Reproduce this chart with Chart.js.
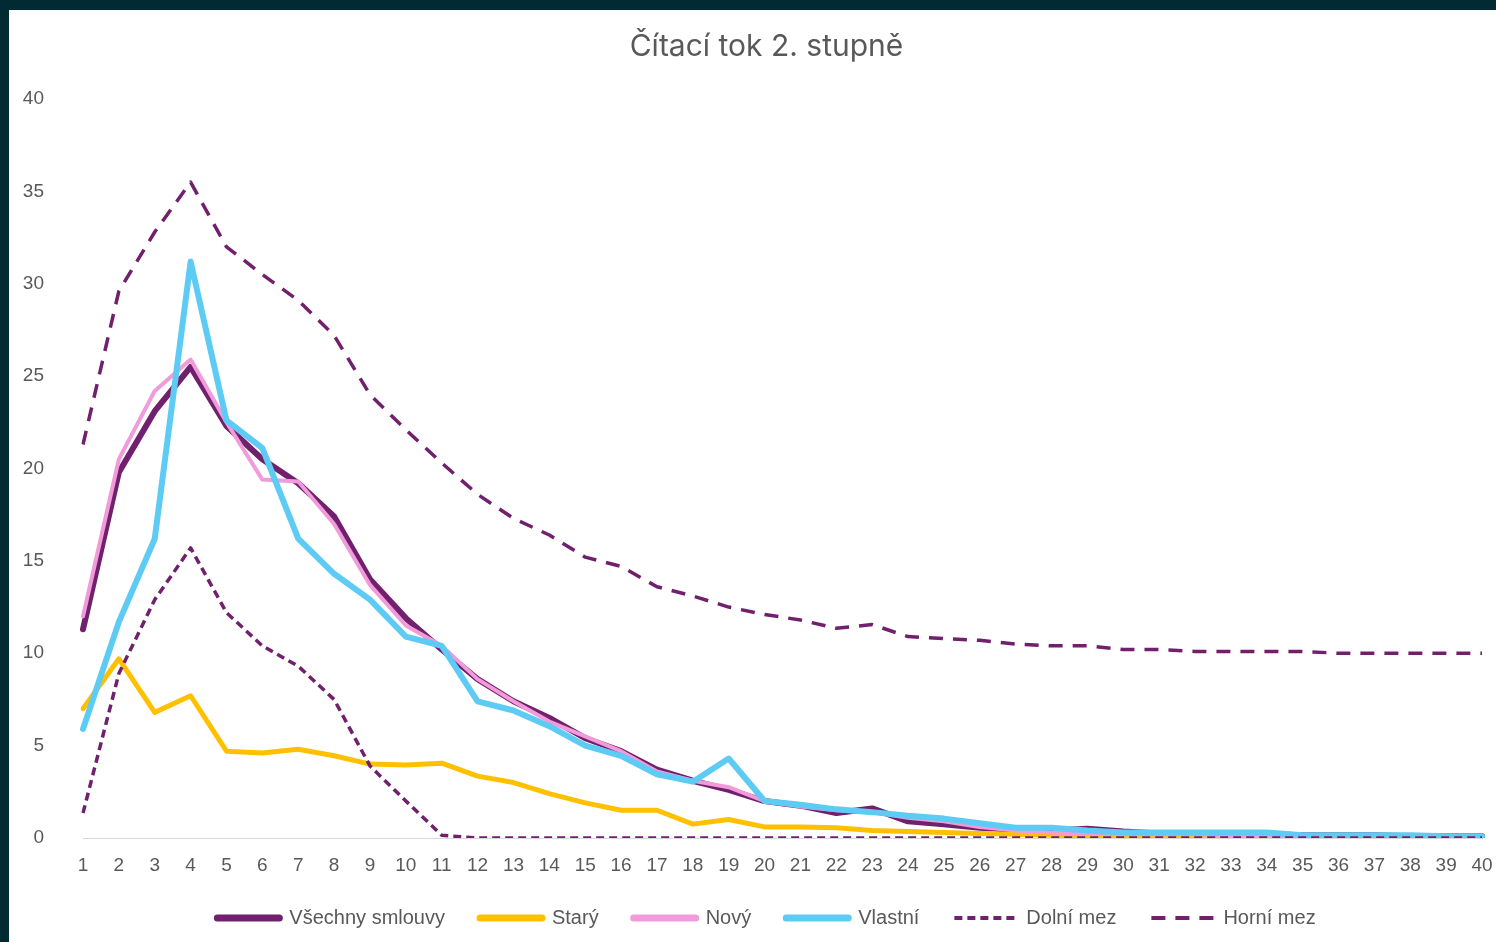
<!DOCTYPE html>
<html>
<head>
<meta charset="utf-8">
<script src="https://cdn.jsdelivr.net/npm/chart.js@4.4.1/dist/chart.umd.min.js"></script>
<style>
  html, body { margin: 0; padding: 0; background: #022a33; overflow: hidden; width: 1496px; height: 942px; }
  #wrap { position: absolute; left: 9px; top: 10px; width: 1515px; height: 932px; background: #ffffff; }
</style>
</head>
<body>
<div id="wrap"><canvas id="c" width="1515" height="932"></canvas></div>
<script>
const categories = ["1","2","3","4","5","6","7","8","9","10","11","12","13","14","15","16","17","18","19","20","21","22","23","24","25","26","27","28","29","30","31","32","33","34","35","36","37","38","39","40"];
const allContracts = [11.3,19.8,23.1,25.5,22.3,20.5,19.2,17.4,14.0,11.9,10.2,8.6,7.4,6.5,5.4,4.7,3.7,3.1,2.6,2.0,1.75,1.35,1.6,0.9,0.75,0.55,0.45,0.4,0.5,0.35,0.25,0.25,0.2,0.2,0.15,0.15,0.15,0.1,0.1,0.1];
const oldContracts = [7.0,9.7,6.8,7.7,4.7,4.6,4.8,4.45,4.0,3.95,4.05,3.35,3.0,2.4,1.9,1.5,1.5,0.75,1.0,0.6,0.6,0.55,0.4,0.35,0.3,0.25,0.2,0.15,0.1,0.05,0.05,0.05,0.05,0.05,0.05,0.05,0.05,0.05,0.05,0.05];
const newContracts = [12.0,20.5,24.2,25.9,22.5,19.4,19.3,17.0,13.7,11.5,10.4,8.6,7.4,6.3,5.5,4.7,3.6,3.1,2.75,2.0,1.7,1.5,1.4,1.1,0.9,0.6,0.4,0.3,0.25,0.2,0.2,0.2,0.15,0.15,0.15,0.1,0.1,0.1,0.1,0.1];
const ownContracts = [5.9,11.7,16.2,31.2,22.6,21.1,16.2,14.3,12.9,10.9,10.4,7.4,6.9,6.05,5.0,4.45,3.45,3.05,4.3,2.0,1.8,1.55,1.4,1.2,1.05,0.8,0.55,0.55,0.4,0.3,0.3,0.3,0.3,0.3,0.15,0.15,0.15,0.15,0.1,0.1];
const lowerBound = [1.35,8.9,12.9,15.7,12.2,10.4,9.3,7.5,3.9,2.0,0.15,0,0,0,0,0,0,0,0,0,0,0,0,0,0,0,0,0,0,0,0,0,0,0,0,0,0,0,0,0];
const upperBound = [21.3,29.6,32.8,35.5,32.0,30.5,29.1,27.2,24.0,22.1,20.3,18.6,17.3,16.4,15.2,14.7,13.6,13.1,12.5,12.1,11.8,11.35,11.55,10.9,10.8,10.7,10.5,10.4,10.4,10.2,10.2,10.1,10.1,10.1,10.1,10.0,10.0,10.0,10.0,10.0];
const yTicks = [0,5,10,15,20,25,30,35,40];

const textColor = '#595959';
const purple = '#70206c';

function line(label, data, color, width, dash, order) {
  return {
    label, data,
    borderColor: color, backgroundColor: color,
    borderWidth: width, borderDash: dash,
    borderCapStyle: dash.length ? 'butt' : 'round',
    borderJoinStyle: 'round',
    pointRadius: 0, pointHoverRadius: 0,
    tension: 0, fill: false, order
  };
}

new Chart(document.getElementById('c'), {
  type: 'line',
  data: {
    labels: categories,
    datasets: [
      line('Všechny smlouvy', allContracts, purple, 6, [], 0),
      line('Starý', oldContracts, '#ffc000', 5, [], -1),
      line('Nový', newContracts, '#f19bdb', 4, [], -2),
      line('Vlastní', ownContracts, '#5dcbf3', 6, [], -3),
      line('Dolní mez', lowerBound, purple, 3.5, [8, 5], -4),
      line('Horní mez', upperBound, purple, 3.5, [14, 10], -5)
    ]
  },
  options: {
    responsive: false,
    animation: false,
    layout: { padding: { left: 0, right: 0, top: 0, bottom: 4 } },
    plugins: {
      title: {
        display: true,
        text: 'Čítací tok 2. stupně',
        color: textColor,
        font: { family: 'Inter, "Open Sans", sans-serif', size: 30, weight: 'normal' },
        padding: { top: 19, bottom: 34 }
      },
      legend: {
        position: 'bottom',
        labels: {
          usePointStyle: true,
          pointStyleWidth: 62,
          boxHeight: 20,
          padding: 35,
          color: textColor,
          font: { family: '"Liberation Sans", sans-serif', size: 20 },
          generateLabels: (chart) => chart.data.datasets.map((ds, i) => ({
            text: ds.label,
            fillStyle: ds.borderColor,
            strokeStyle: ds.borderColor,
            lineWidth: ds.borderDash.length ? 4 : 7,
            lineDash: ds.borderDash,
            lineCap: ds.borderDash.length ? 'butt' : 'round',
            pointStyle: 'line',
            fontColor: textColor,
            hidden: false,
            datasetIndex: i
          }))
        }
      },
      tooltip: { enabled: false }
    },
    scales: {
      x: {
        offset: false,
        grid: { display: false, drawTicks: false },
        border: { display: true, color: '#d9d9d9', width: 1 },
        ticks: {
          color: textColor, autoSkip: false, maxRotation: 0, padding: 16,
          font: { family: '"Liberation Sans", sans-serif', size: 19 }
        },
        afterFit: (s) => { s.height = 35; s.paddingRight = 42; }
      },
      y: {
        min: 0, max: 40,
        grid: { display: false, drawTicks: false },
        border: { display: false },
        afterBuildTicks: (s) => { s.ticks = yTicks.map(v => ({ value: v })); },
        ticks: {
          color: textColor, padding: 39,
          font: { family: '"Liberation Sans", sans-serif', size: 19 }
        },
        afterFit: (s) => { s.width = 74; }
      }
    }
  }
});
</script>
</body>
</html>
